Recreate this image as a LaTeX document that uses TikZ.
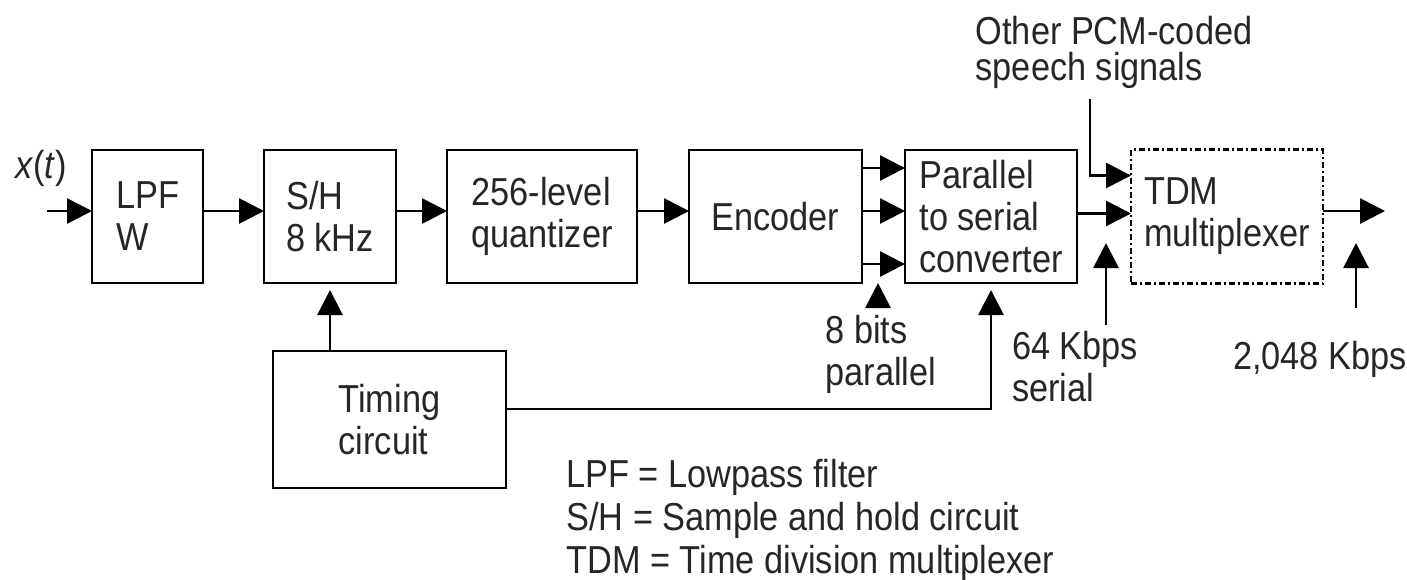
\documentclass[tikz,border=0pt]{standalone}
\usepackage{fontspec}
\setmainfont{Liberation Sans}[FakeStretch=0.88]
\usetikzlibrary{arrows.meta,positioning}

\begin{document}
\begin{tikzpicture}[
  x=0.5pt, y=-0.5pt,
  every node/.style={font=\fontsize{19.5}{21}\selectfont, text=black!85},
  block/.style={
    rectangle, draw=black, line width=1.4pt,
    align=left, inner sep=0pt, outer sep=0pt,
    minimum height=66.5pt},
  muxbox/.style={
    block, line width=1.4pt,
    dash pattern=on 3pt off 1.5pt on 1pt off 1.5pt},
  lbl/.style={align=left, inner sep=0pt},
  arr/.style={line width=1.4pt, -{Triangle[length=12.5pt,width=12.5pt]}},
  node distance=0pt and 26pt
]
  \useasboundingbox (0,0) rectangle (1407,579);

  %% ── Bloques ───────────────────────────────────────────────
  \node[block, minimum width=55.5pt] (F) at (147.5,216.5) {LPF\\W};
  \node[block, minimum width=66pt, right=30.5pt of F] (S) {S/H\\8 kHz};
  \node[block, minimum width=95pt, right=25.5pt of S] (Q) {256-level\\quantizer};
  \node[block, minimum width=86.5pt, right=26pt of Q] (E) {Encoder};
  \node[block, minimum width=86pt, right=21.5pt of E] (P)
    {Parallel\\to serial\\converter};
  \node[muxbox, minimum width=96pt, minimum height=67pt, right=27pt of P] (M)
    {TDM\\multiplexer};
  \node[block, minimum width=116.5pt, minimum height=68.5pt] (C) at (389.5,419.5)
    {Timing\\circuit};

  %% ── Etiquetas ─────────────────────────────────────────────
  \node[lbl] (X) at (41,168) {\textit{x}(\textit{t})};
  \node[lbl, font=\fontsize{19.5}{18}\selectfont] (O) at (1114,52)
    {Other PCM-coded\\speech signals};
  \node[lbl] (B) at (881,354) {8 bits\\parallel};
  \node[lbl] (K) at (1075,367) {64 Kbps\\serial};
  \node[lbl] (D) at (1320,359) {2,048 Kbps};
  \node[lbl, anchor=west, font=\fontsize{19.5}{21.5}\selectfont] (L) at (566,520)
    {LPF = Lowpass filter\\S/H = Sample and hold circuit\\TDM = Time division multiplexer};

  %% ── Cadena principal ──────────────────────────────────────
  \coordinate (in) at (47,211);
  \draw[arr] (in) -- (in -| F.west);
  \foreach \a/\b in {F/S,S/Q,Q/E}
    \draw[arr] ([yshift=2.75pt]\a.east) -- ([yshift=2.75pt]\b.west);
  \foreach \dy in {24.25,2.75,-23.75}
    \draw[arr] ([yshift=\dy pt]E.east) -- ([yshift=\dy pt]P.west);
  \draw[arr] ([yshift=1.5pt]P.east) -- ([yshift=1.5pt]M.west);
  \draw[arr] ([xshift=-12pt,yshift=-5pt]O.south) |- ([yshift=20.5pt]M.west);
  \coordinate (out) at (1385,211);
  \draw[arr] (out -| M.east) -- (out);

  %% ── Reloj ─────────────────────────────────────────────────
  \draw[arr] (S.south |- C.north) -- ([yshift=-3.5pt]S.south);
  \draw[arr] ([yshift=5.25pt]C.east) -| ([yshift=-3.5pt]P.south);

  %% ── Flechas de tasa ───────────────────────────────────────
  \coordinate (s8) at (878,307);   \coordinate (t8) at (878,283);
  \coordinate (s64) at (1106,325); \coordinate (t64) at (1106,243);
  \coordinate (s2k) at (1356,308); \coordinate (t2k) at (1356,243);
  \draw[arr] (s8) -- (t8);
  \draw[arr] (s64) -- (t64);
  \draw[arr] (s2k) -- (t2k);

\end{tikzpicture}
\end{document}
